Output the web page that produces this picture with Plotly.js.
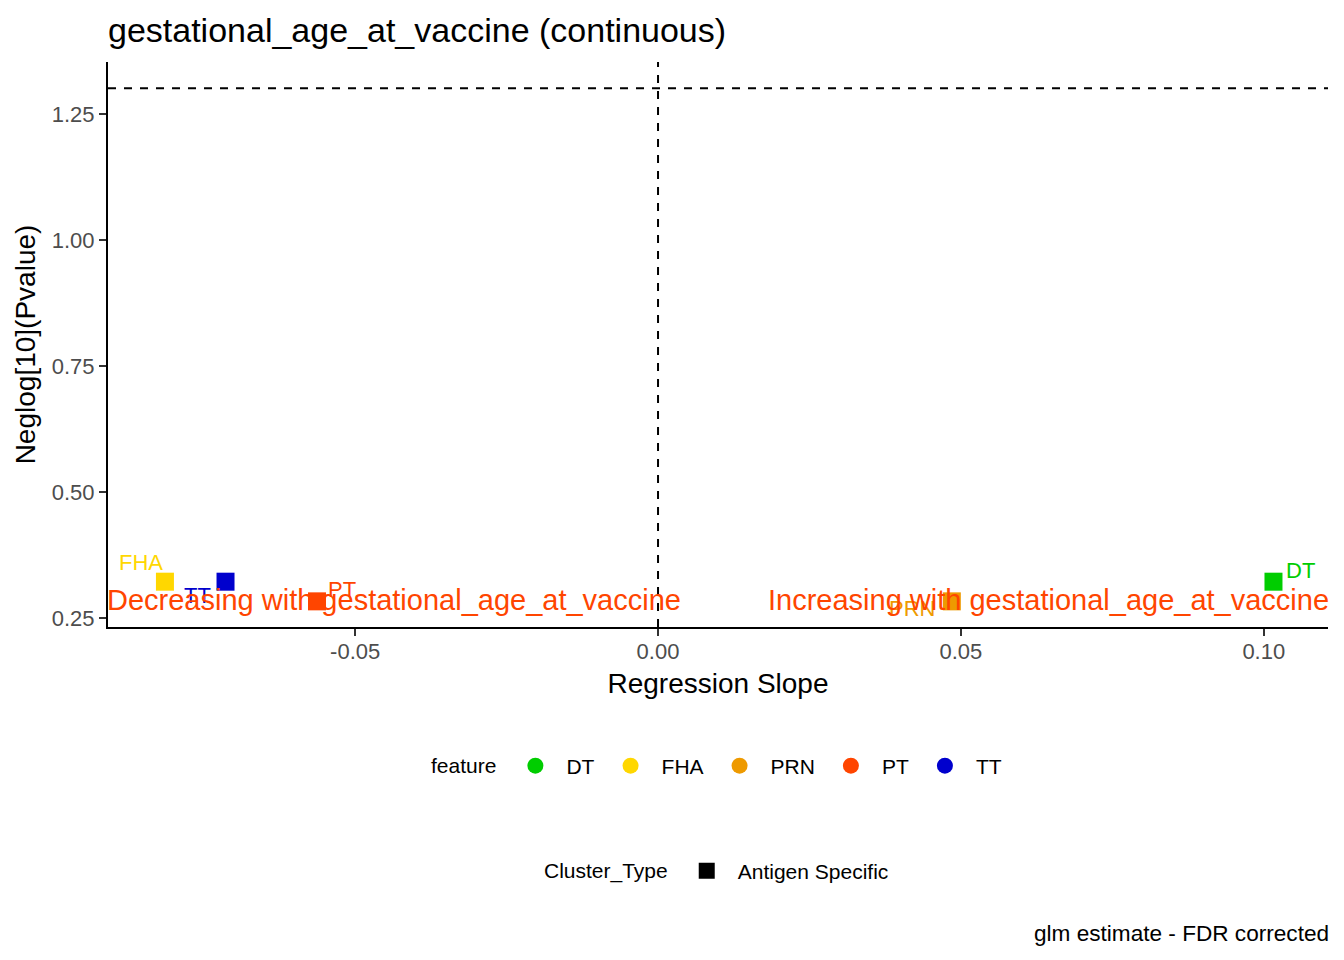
<!DOCTYPE html>
<html>
<head>
<meta charset="utf-8">
<script src="https://cdn.plot.ly/plotly-3.0.1.min.js"></script>
<style>
html, body { margin: 0; padding: 0; background: #fff; }
#chart { width: 1344px; height: 960px; }
</style>
</head>
<body>
<div id="chart"></div>
<script>
// glm results, one row per antigen feature
const features = ['DT', 'FHA', 'PRN', 'PT', 'TT'];
const slope = [0.1016, -0.0814, 0.0485, -0.0563, -0.0714];
const neglogP = [0.322, 0.322, 0.283, 0.283, 0.322];
const featureColors = ['#00CD00', '#FFD700', '#EE9A00', '#FF4500', '#0000CD'];
const clusterTypes = ['Antigen Specific'];
const pCutoff = 0.05;

const xTicks = [-0.05, 0, 0.05, 0.10];
const xTickText = ['-0.05', '0.00', '0.05', '0.10'];
const yTicks = [0.25, 0.5, 0.75, 1.0, 1.25];
const yTickText = ['0.25', '0.50', '0.75', '1.00', '1.25'];

// repel-style label offsets (px) for the point labels
const labelDx = [27, -24, -40, 25, -28];
const labelDy = [11, 19, -7, 12, -14];

const FONT = 'Liberation Sans, Arial, sans-serif';
const chart = document.getElementById('chart');

let traces = [];
for (let i = 0; i < features.length; i++) {
    // the actual points (squares = Cluster_Type)
    traces.push({
        x: [slope[i]],
        y: [neglogP[i]],
        type: 'scatter',
        mode: 'markers',
        marker: {symbol: 'square', size: 18, color: featureColors[i]},
        showlegend: false,
        hoverinfo: 'skip'
    });
}
// legend entries only
for (let i = 0; i < features.length; i++) {
    traces.push({
        x: [null], y: [null],
        type: 'scatter', mode: 'markers',
        name: features[i],
        legend: 'legend',
        marker: {symbol: 'circle', size: 16, color: featureColors[i]}
    });
}
clusterTypes.forEach(ct => {
    traces.push({
        x: [null], y: [null],
        type: 'scatter', mode: 'markers',
        name: ct,
        legend: 'legend2',
        marker: {symbol: 'square', size: 16, color: '#000000'}
    });
});

let annotations = [];
for (let i = 0; i < features.length; i++) {
    annotations.push({
        x: slope[i], y: neglogP[i], xref: 'x', yref: 'y',
        text: features[i], showarrow: false,
        xshift: labelDx[i], yshift: labelDy[i],
        font: {family: FONT, size: 22, color: featureColors[i]}
    });
}
const textY = Math.min(...neglogP);
annotations.push({
    x: 0, xref: 'paper', xanchor: 'left', y: textY, yref: 'y', yanchor: 'middle',
    xshift: -3, yshift: 1,
    text: 'Decreasing with gestational_age_at_vaccine', showarrow: false,
    font: {family: FONT, size: 29, color: '#FF4500'}
});
annotations.push({
    x: 1, xref: 'paper', xanchor: 'right', y: textY, yref: 'y', yanchor: 'middle',
    xshift: 3, yshift: 1,
    text: 'Increasing with gestational_age_at_vaccine', showarrow: false,
    font: {family: FONT, size: 29, color: '#FF4500'}
});
annotations.push({
    x: 1, xref: 'paper', xanchor: 'right', y: -0.5416, yref: 'paper', yanchor: 'middle',
    xshift: 3,
    text: 'glm estimate - FDR corrected', showarrow: false,
    font: {family: FONT, size: 22.6, color: '#000000'}
});

const axisCommon = {
    showgrid: false, zeroline: false,
    showline: true, linecolor: '#000000', linewidth: 2,
    ticks: 'outside', ticklen: 7, tickwidth: 2, tickcolor: '#333333',
    tickfont: {family: FONT, size: 22, color: '#4D4D4D'},
    automargin: false
};

let layout = {
    width: 1344, height: 960,
    paper_bgcolor: '#ffffff', plot_bgcolor: '#ffffff',
    margin: {l: 108, r: 16, t: 62, b: 333},
    font: {family: FONT, color: '#000000'},
    title: {
        text: 'gestational_age_at_vaccine (continuous)',
        font: {family: FONT, size: 34, color: '#000000'},
        x: 0, xref: 'paper', xanchor: 'left',
        y: 1 - 30 / 960, yref: 'container', yanchor: 'middle'
    },
    xaxis: Object.assign({}, axisCommon, {
        range: [-0.0908, 0.1106],
        tickmode: 'array', tickvals: xTicks, ticktext: xTickText,
        ticklabelstandoff: -3,
        title: {text: 'Regression Slope', font: {family: FONT, size: 28, color: '#000000'}, standoff: 10}
    }),
    yaxis: Object.assign({}, axisCommon, {
        range: [0.2321, 1.3532],
        tickmode: 'array', tickvals: yTicks, ticktext: yTickText,
        title: {text: 'Neglog[10](Pvalue)', font: {family: FONT, size: 28, color: '#000000'}, standoff: 8}
    }),
    shapes: [
        {type: 'line', xref: 'x', yref: 'paper', x0: 0, x1: 0, y0: 0, y1: 1,
         line: {color: '#000000', width: 2, dash: '8px,8px'}},
        {type: 'line', xref: 'paper', yref: 'y', x0: 0, x1: 1,
         y0: -Math.log10(pCutoff), y1: -Math.log10(pCutoff),
         line: {color: '#000000', width: 2, dash: '8px,8px'}}
    ],
    annotations: annotations,
    legend: {
        orientation: 'h', x: 0.5, xanchor: 'center', y: -0.246, yanchor: 'middle',
        title: {text: 'feature', side: 'left', font: {family: FONT, size: 21, color: '#000000'}},
        font: {family: FONT, size: 21, color: '#000000'},
        itemwidth: 52, bgcolor: 'rgba(0,0,0,0)'
    },
    legend2: {
        orientation: 'h', x: 0.5, xanchor: 'center', y: -0.432, yanchor: 'middle',
        title: {text: 'Cluster_Type', side: 'left', font: {family: FONT, size: 21, color: '#000000'}},
        font: {family: FONT, size: 21, color: '#000000'},
        itemwidth: 52, bgcolor: 'rgba(0,0,0,0)'
    },
    showlegend: true
};

Plotly.newPlot(chart, traces, layout, {displayModeBar: false, staticPlot: true});
</script>
</body>
</html>
